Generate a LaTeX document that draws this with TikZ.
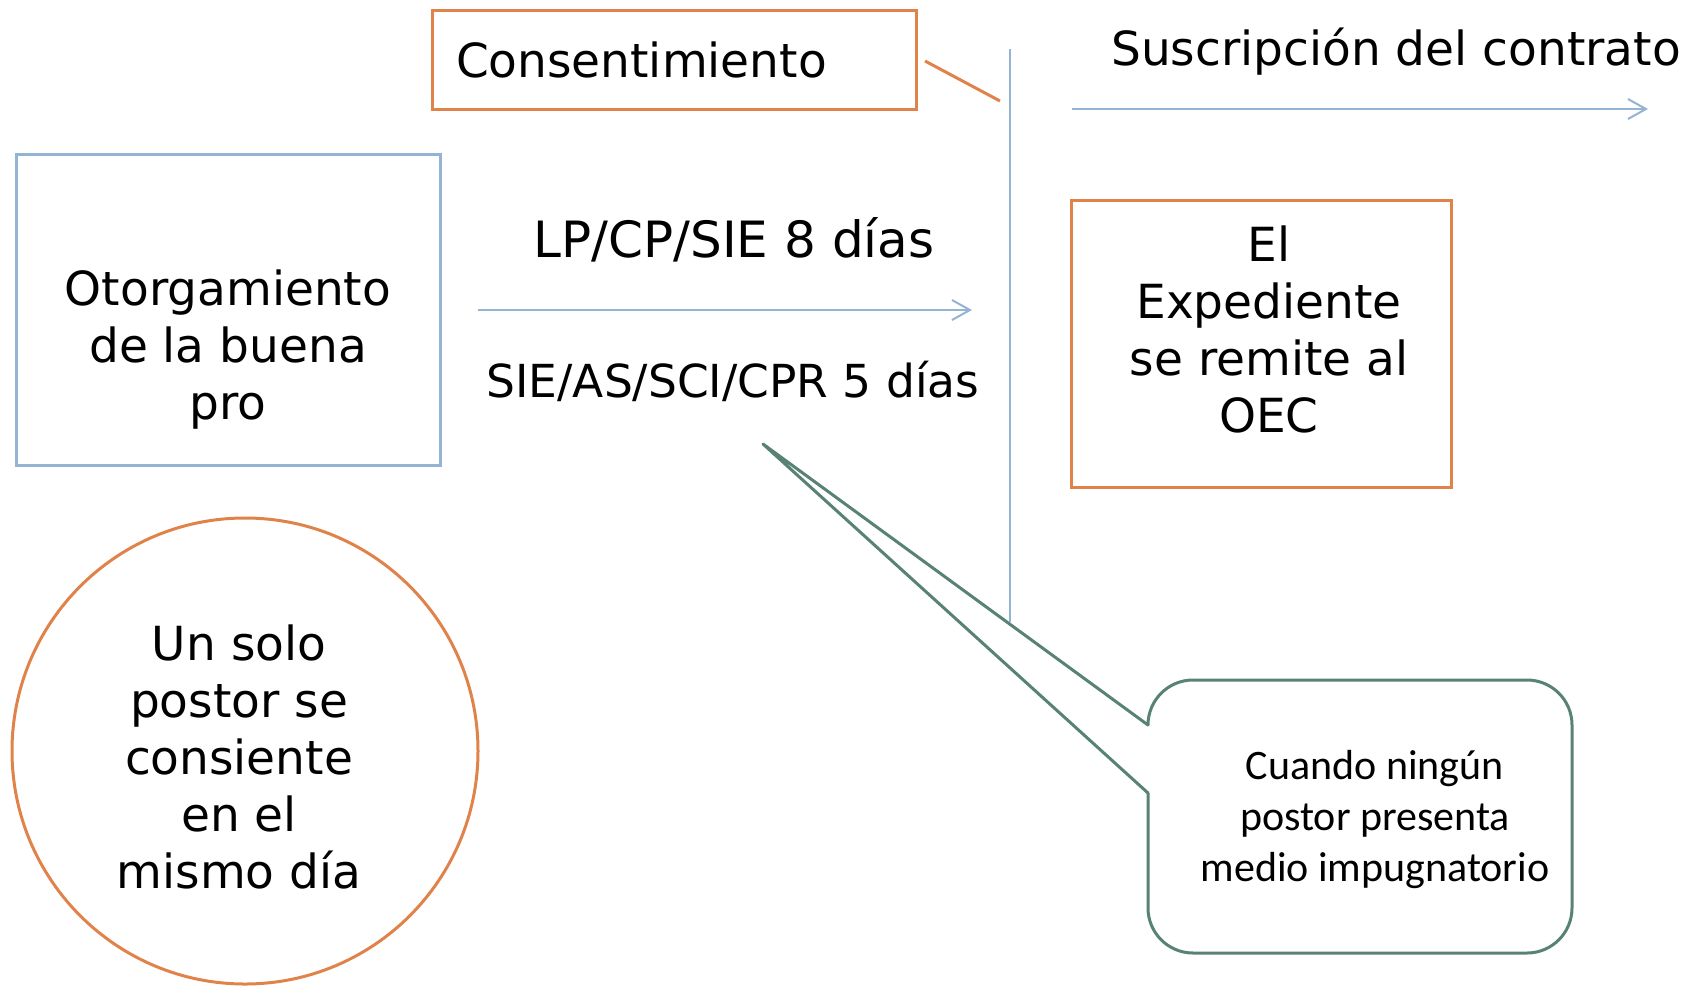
\documentclass[tikz,border=0pt]{standalone}
\usepackage{fontspec}
\setmainfont{DejaVu Sans}
\newfontfamily\calibrifont{Carlito}
\usetikzlibrary{arrows.meta,positioning}

\definecolor{boxorange}{RGB}{224,131,74}
\definecolor{lineblue}{RGB}{149,179,211}
\definecolor{notegreen}{RGB}{88,130,117}

\tikzset{
  orangebox/.style = {draw=boxorange, line width=3pt},
  bluebox/.style = {draw=lineblue, line width=3pt},
  bigtext/.style = {font=\fontsize{47}{57}\selectfont, align=center, inner sep=0pt},
  timeline/.style = {draw=lineblue, line width=2pt},
  steparrow/.style = {timeline, -{Straight Barb[length=18pt, width=20pt, line width=2pt]}},
  callout/.style = {draw=notegreen, line width=3pt, line cap=round, line join=round}
}

\begin{document}
\begin{tikzpicture}[x=1pt, y=-1pt]
\useasboundingbox (0,0) rectangle (1706,986);

% boxes
\node[bluebox, minimum width=424, minimum height=311] (otorg) at (228,309.5) {};
\node[bigtext] (otorgText) at (228,350) {Otorgamiento\\de la buena\\pro};
\node[orangebox, bigtext, minimum width=484, minimum height=99, text width=436,
      inner xsep=24, align=left] (consent) at (674,59.5) {Consentimiento};
\node[orangebox, minimum width=380, minimum height=287] (exped) at (1261,343.5) {};
\node[bigtext] (expedText) at (1269,329) {El\\Expediente\\se remite al\\OEC};
\node[orangebox, circle, minimum size=466] (solo) at (245,751) {};
\node[bigtext] (soloText) at (239,757) {Un solo\\postor se\\consiente\\en el\\mismo día};

% plazos
\coordinate (plazoStart) at (478,310);
\coordinate (plazoEnd) at (972,310);
\draw[steparrow] (plazoStart) -- (plazoEnd);
\node[bigtext, font=\fontsize{50}{57}\selectfont] (plazoLargo) at (734,240) {LP/CP/SIE 8 días};
\node[bigtext, font=\fontsize{45.5}{57}\selectfont] (plazoCorto) at (733,381) {SIE/AS/SCI/CPR 5 días};

% linea de tiempo
\coordinate (lineTop) at (1010,49);
\coordinate (lineBot) at (1010,622);
\draw[timeline, line width=2.5pt] (lineTop) -- (lineBot);
\coordinate (consMark) at (925,61);
\coordinate (lineMark) at (1000,101);
\draw[orangebox] (consMark) -- (lineMark);

\coordinate (firmaStart) at (1072,109);
\coordinate (firmaEnd) at (1648,109);
\draw[steparrow] (firmaStart) -- (firmaEnd);
\node[bigtext] (suscripcion) at (1396,52) {Suscripción del contrato};

% nota
\node[font=\calibrifont\fontsize{42}{51}\selectfont, align=center, inner sep=0pt]
  (cuando) at (1375,820) {Cuando ningún\\postor presenta\\medio impugnatorio};
\coordinate (tip) at (763,444);
\draw[callout] (1148,725) -- (tip) -- (1148,793);
\draw[callout, rounded corners=45pt] (1148,793) -- (1148,953) -- (1572,953)
  -- (1572,680) -- (1148,680) -- (1148,725);
\end{tikzpicture}
\end{document}
